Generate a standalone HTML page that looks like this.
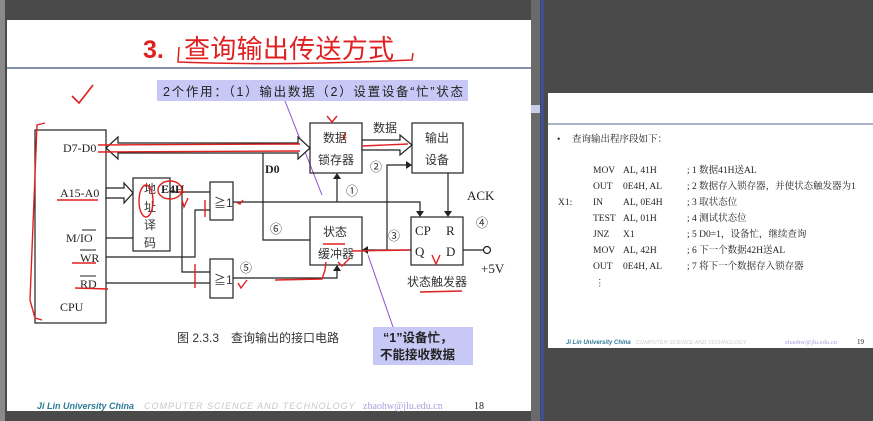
<!DOCTYPE html>
<html><head><meta charset="utf-8"><style>
html,body{margin:0;padding:0;width:873px;height:421px;overflow:hidden;background:#4a4a4a}
svg{display:block}
.s{font-family:"Liberation Serif","Noto Serif CJK SC",serif;fill:#222}
</style></head><body>
<svg width="873" height="421" viewBox="0 0 873 421" xmlns="http://www.w3.org/2000/svg">
<rect x="0" y="0" width="873" height="421" fill="#4a4a4a"/>
<rect x="0" y="0" width="5" height="421" fill="#8a8a8a"/>
<rect x="7" y="20" width="524" height="391" fill="#fff"/>
<line x1="7" y1="68" x2="531" y2="68" stroke="#5a6a90" stroke-width="1.5"/>
<rect x="531" y="0" width="9" height="421" fill="#6a6a6a"/>
<rect x="531" y="105" width="9" height="8" fill="#c8cde8"/>
<rect x="541" y="0" width="2.5" height="421" fill="#3850a8"/>
<text x="143" y="58" font-family="Liberation Sans,sans-serif" font-weight="bold" font-size="25" fill="#e02020">3.</text>
<text x="184" y="58" font-family="Liberation Sans,'Noto Sans CJK SC',sans-serif" font-size="26" fill="#e02020" textLength="210">查询输出传送方式</text>
<path d="M179 47 L178 62 Q280 66 412 60 L413 53" fill="none" stroke="#e02020" stroke-width="1.5"/>
<path d="M72 96 L79 103 L93 85" fill="none" stroke="#e02020" stroke-width="1.6"/>
<rect x="157" y="80" width="311" height="21" fill="#c8c8f6"/>
<text x="163" y="96" font-family="Liberation Sans,'Noto Sans CJK SC',sans-serif" font-size="12.5" fill="#222" textLength="300">2个作用：（1）输出数据（2）设置设备“忙”状态</text>
<line x1="285" y1="101" x2="322" y2="195" stroke="#9050d0" stroke-width="1"/>
<g stroke="#222" stroke-width="1.2" fill="none">
<rect x="35" y="130" width="71" height="193"/>
<path d="M106 148 L118 137 L118 143 L298 143 L298 137 L310 148 L298 159 L298 153 L118 153 L118 159 Z" fill="#fff"/>
<path d="M106 188 L124 188 L124 183 L133 193 L124 203 L124 198 L106 198 Z" fill="#fff"/>
<rect x="133" y="178" width="37" height="73"/>
<line x1="106" y1="238" x2="133" y2="238"/>
<path d="M106 257 L195 257 L195 210 L210 210"/>
<line x1="106" y1="283" x2="210" y2="283"/>
<path d="M170 192 L210 192"/>
<path d="M182 192 L182 272 L210 272"/>
<rect x="210" y="182" width="23" height="38"/>
<rect x="210" y="259" width="23" height="39"/>
<path d="M233 202 L420 202 L420 215"/>
<path d="M337 202 L337 175"/>
<path d="M263 153 L263 240 L310 240"/>
<rect x="310" y="123" width="52" height="50"/>
<rect x="412" y="123" width="51" height="50"/>
<path d="M362 140 L400 140 L400 135 L412 145 L400 155 L400 150 L362 150 Z" fill="#fff"/>
<path d="M387 250 L387 165 L410 165"/>
<path d="M448 173 L448 215"/>
<rect x="411" y="217" width="52" height="48"/>
<path d="M411 250 L364 250"/>
<path d="M463 250 L483 250"/>
<circle cx="487" cy="250" r="3.5"/>
<rect x="310" y="217" width="52" height="48"/>
<path d="M233 278 L337 278 L337 267"/>
</g>
<g fill="#222">
<path d="M416 211 L424 211 L420 217 Z"/>
<path d="M444 211 L452 211 L448 217 Z"/>
<path d="M333 179 L341 179 L337 173 Z"/>
<path d="M406 161 L406 169 L412 165 Z"/>
<path d="M368 246 L368 254 L362 250 Z"/>
<path d="M333 271 L341 271 L337 265 Z"/>
</g>
<g class="s" font-size="12">
<text x="63" y="152">D7-D0</text>
<text x="60" y="197">A15-A0</text>
<text x="66" y="242">M/IO</text>
<line x1="82" y1="230" x2="96" y2="230" stroke="#222"/>
<text x="80" y="262">WR</text>
<line x1="80" y1="250" x2="96" y2="250" stroke="#222"/>
<text x="80" y="288">RD</text>
<line x1="80" y1="276" x2="96" y2="276" stroke="#222"/>
<text x="60" y="311">CPU</text>
<text x="161" y="193" font-weight="bold">E4H</text>
<text x="265" y="173" font-weight="bold">D0</text>
<text x="467" y="200" font-size="13">ACK</text>
<text x="415" y="235" font-size="13">CP</text>
<text x="446" y="235" font-size="13">R</text>
<text x="415" y="256" font-size="13">Q</text>
<text x="446" y="256" font-size="13">D</text>
<text x="481" y="273" font-size="13">+5V</text>
</g>
<g font-family="Liberation Sans,'Noto Sans CJK SC',sans-serif" font-size="12" fill="#333">
<text x="144" y="193">地</text><text x="144" y="211">址</text><text x="144" y="229">译</text><text x="144" y="247">码</text>
<text x="214" y="207">≧1</text><text x="214" y="284">≧1</text>
<text x="323" y="142">数据</text><text x="318" y="164">锁存器</text>
<text x="425" y="142">输出</text><text x="425" y="164">设备</text>
<text x="373" y="132">数据</text>
<text x="323" y="236">状态</text><text x="318" y="258">缓冲器</text>
<text x="407" y="286">状态触发器</text>
<text x="177" y="342" font-size="12">图 2.3.3　查询输出的接口电路</text>
<text x="346" y="195">①</text><text x="370" y="171">②</text><text x="388" y="240">③</text>
<text x="476" y="227">④</text><text x="240" y="272">⑤</text><text x="270" y="233">⑥</text>
</g>
<rect x="373" y="327" width="100" height="38" fill="#c8c8f6"/>
<g font-family="Liberation Sans,'Noto Sans CJK SC',sans-serif" font-size="12.5" font-weight="bold" fill="#222">
<text x="383" y="342">“1”设备忙，</text><text x="380" y="359">不能接收数据</text>
</g>
<line x1="393" y1="327" x2="368" y2="255" stroke="#9050d0" stroke-width="1"/>
<g stroke="#e02020" stroke-width="1.4" fill="none">
<path d="M45 123 L37 125 L34 200 L30 300 L35 318 L42 320"/>
<path d="M98 145 L300 144"/><path d="M98 152 L300 151"/>
<path d="M57 200 L98 200"/><path d="M72 263 L96 263"/><path d="M75 288 L108 289"/>
<ellipse cx="146" cy="201" rx="7" ry="16"/>
<ellipse cx="170" cy="190" rx="12" ry="9"/>
<path d="M185 192 L178 192"/><path d="M182 200 L184 207 L188 198"/>
<path d="M205 200 L205 217"/><path d="M195 264 L195 288"/>
<path d="M236 202 L240 204 L243 200"/>
<path d="M238 283 L241 288 L247 280"/>
<path d="M275 280 L322 279 L325 270 L326 262"/>
<path d="M327 116 L332 122 L337 116"/><path d="M345 133 L344 140"/>
<path d="M362 146 L408 144"/>
<path d="M410 250 L352 251"/>
<path d="M338 262 L342 266 L350 258"/>
<path d="M432 255 L436 264 L440 255"/>
<path d="M323 244 L345 244"/><path d="M420 292 L462 291"/>
</g>
<g font-family="Liberation Sans,sans-serif" font-size="9" font-style="italic">
<text x="37" y="409" font-weight="bold" fill="#2a7a98">Ji Lin University China</text>
<text x="144" y="409" fill="#c8c8c8" letter-spacing="1">COMPUTER  SCIENCE  AND  TECHNOLOGY</text>
</g>
<text x="363" y="409" font-family="Liberation Serif,serif" font-size="10" fill="#a8a0e0">zhaohw@jlu.edu.cn</text>
<text x="474" y="409" font-family="Liberation Serif,serif" font-size="10" fill="#222">18</text>
<rect x="548" y="93" width="325" height="255" fill="#fff"/>
<line x1="548" y1="124" x2="873" y2="124" stroke="#5a6a90" stroke-width="1"/>
<g font-family="Liberation Serif,'Noto Serif CJK SC',serif" font-size="9.5" fill="#222">
<text x="557" y="142">•</text>
<text x="572" y="142">查询输出程序段如下：</text>
<text x="593" y="173">MOV</text><text x="623" y="173">AL, 41H</text><text x="687" y="173">; 1 数据41H送AL</text>
<text x="593" y="189">OUT</text><text x="623" y="189">0E4H, AL</text><text x="687" y="189">; 2 数据存入锁存器，并使状态触发器为1</text>
<text x="558" y="205">X1:</text>
<text x="593" y="205">IN</text><text x="623" y="205">AL, 0E4H</text><text x="687" y="205">; 3 取状态位</text>
<text x="593" y="221">TEST</text><text x="623" y="221">AL, 01H</text><text x="687" y="221">; 4 测试状态位</text>
<text x="593" y="237">JNZ</text><text x="623" y="237">X1</text><text x="687" y="237">; 5 D0=1，设备忙，继续查询</text>
<text x="593" y="253">MOV</text><text x="623" y="253">AL, 42H</text><text x="687" y="253">; 6 下一个数据42H送AL</text>
<text x="593" y="269">OUT</text><text x="623" y="269">0E4H, AL</text><text x="687" y="269">; 7 将下一个数据存入锁存器</text>
<text x="595" y="286">⋮</text>
</g>
<text x="566" y="344" font-family="Liberation Sans,sans-serif" font-size="6" font-style="italic" font-weight="bold" fill="#2a7a98">Ji Lin University China</text>
<text x="636" y="344" font-family="Liberation Sans,sans-serif" font-size="5.5" font-style="italic" fill="#ccc">COMPUTER SCIENCE AND TECHNOLOGY</text>
<text x="785" y="344" font-family="Liberation Serif,serif" font-size="6.5" fill="#a8a0e0">zhaohw@jlu.edu.cn</text>
<text x="857" y="344" font-family="Liberation Serif,serif" font-size="7" fill="#222">19</text>
</svg>
</body></html>
